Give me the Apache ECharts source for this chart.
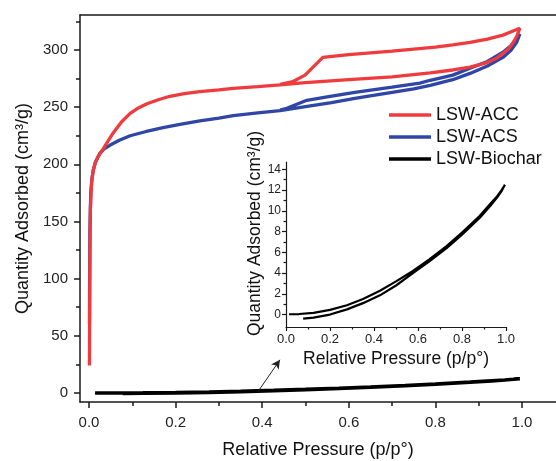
<!DOCTYPE html>
<html>
<head>
<meta charset="utf-8">
<script src="https://cdn.jsdelivr.net/npm/echarts@6/dist/echarts.min.js"></script>
<style>html,body{margin:0;padding:0;background:#fff}#c{width:556px;height:461px}</style>
</head>
<body>
<div id="c"></div>
<script>
// ---- data ----
const seriesNames = ['LSW-ACC', 'LSW-ACS', 'LSW-Biochar'];
const accData = [
  [0.001,24],[0.002,110],[0.003,160],[0.006,185],[0.01,195],[0.014,201],[0.02,206],[0.032,213],
  [0.045,221],[0.055,227],[0.075,237],[0.095,244.5],[0.115,249.5],[0.134,253],[0.16,256.5],[0.187,259.5],
  [0.22,261.8],[0.256,263.5],[0.3,265.2],[0.333,266.5],[0.39,268],[0.441,269.5],[0.5,271.5],[0.6,274],
  [0.7,276.5],[0.788,280],[0.84,282.5],[0.88,285],[0.919,289],[0.94,292.5],[0.956,297],[0.969,301],
  [0.979,306],[0.988,312],[0.995,319],
  [0.995,320],[0.985,317.5],[0.975,316],[0.956,313],[0.92,309.5],[0.88,306.6],[0.84,304.5],[0.8,302.5],
  [0.7,299],[0.6,296],[0.54,293.5],[0.499,278],[0.469,272],[0.441,270]
];
const acsData = [
  [0.001,60],[0.002,140],[0.004,175],[0.007,188],[0.01,195],[0.015,202],[0.025,209.6],[0.035,213.5],
  [0.048,216.6],[0.07,221],[0.095,225],[0.13,228.5],[0.171,232],[0.21,235],[0.256,238],[0.3,240.5],
  [0.333,242.5],[0.39,245],[0.441,247],[0.5,250.5],[0.56,254],[0.614,257.7],[0.66,260.5],[0.7,263],
  [0.75,266],[0.788,269],[0.84,274],[0.88,279.5],[0.92,286],[0.956,293.5],[0.975,300],[0.988,307],[0.995,314],
  [0.99,311],[0.975,304],[0.956,298],[0.92,290],[0.88,284],[0.84,278],[0.788,273.5],[0.764,271],
  [0.7,267.5],[0.614,263],[0.55,259],[0.503,256],[0.457,249],[0.441,247.5]
];
const biocharData = [
  [0.078,-0.4],[0.125,-0.3],[0.2,0.0],[0.277,0.5],[0.35,1.1],[0.427,1.85],[0.5,2.8],[0.577,4.0],
  [0.65,5.1],[0.73,6.4],[0.8,7.7],[0.88,9.3],[0.93,10.5],[0.96,11.3],[0.98,11.9],[0.995,12.5],
  [0.98,12.0],[0.96,11.4],[0.93,10.7],[0.88,9.5],[0.8,7.9],[0.73,6.6],[0.65,5.3],[0.577,4.2],[0.5,3.2],
  [0.427,2.3],[0.35,1.5],[0.277,0.9],[0.2,0.45],[0.125,0.16],[0.06,0.05],[0.014,0.03]
];
const mainXTicks = [0, 0.2, 0.4, 0.6, 0.8, 1.0];
const mainXMinor = [0.1, 0.3, 0.5, 0.7, 0.9];
const mainYTicks = [0, 50, 100, 150, 200, 250, 300];
const mainYMinor = [25, 75, 125, 175, 225, 275, 325];
const insetXTicks = [0, 0.2, 0.4, 0.6, 0.8, 1.0];
const insetXMinor = [0.1, 0.3, 0.5, 0.7, 0.9];
const insetYTicks = [0, 2, 4, 6, 8, 10, 12, 14];
const insetYMinor = [1, 3, 5, 7, 9, 11, 13];
const arrowFrom = [0.39, 1];
const arrowTo = [0.441, 29];

// ---- styles ----
const FONT = 'Liberation Sans, Arial, sans-serif';
const AX = '#1a1a1a';
const RED = '#ef3b3e';
const BLUE = '#2f46a6';
const BLACK = '#000';

function xFmt(v){ return Number(v).toFixed(1); }

const chart = echarts.init(document.getElementById('c'), null, {renderer: 'canvas'});
const option = {
  animation: false,
  backgroundColor: '#fff',
  grid: [
    {left: 80, top: 15, right: 0, bottom: 59, outerBoundsMode: 'none', containLabel: false},
    {left: 286, top: 162, right: 50, bottom: 134, outerBoundsMode: 'none', containLabel: false}
  ],
  legend: {
    data: seriesNames,
    orient: 'vertical',
    left: 384, top: 99,
    icon: 'rect',
    itemWidth: 42, itemHeight: 3.5,
    itemGap: 0,
    textStyle: {fontFamily: FONT, fontSize: 18, color: '#111', lineHeight: 22}
  },
  xAxis: [
    { // main major
      type: 'value', gridIndex: 0, min: -0.0208, max: 1.0785, position: 'bottom',
      name: 'Relative Pressure (p/p°)', nameLocation: 'middle', nameGap: 39,
      nameTextStyle: {fontFamily: FONT, fontSize: 18, color: '#111'},
      axisLine: {show: true, onZero: false, lineStyle: {color: AX, width: 1.5}},
      axisTick: {show: true, inside: false, length: 6, customValues: mainXTicks, lineStyle: {color: AX, width: 1.5}},
      axisLabel: {show: true, customValues: mainXTicks, formatter: xFmt, margin: 13, fontFamily: FONT, fontSize: 15, color: '#222'},
      splitLine: {show: false}
    },
    { // main minor
      type: 'value', gridIndex: 0, min: -0.0208, max: 1.0785, position: 'bottom', offset: 0,
      axisLine: {show: false, onZero: false},
      axisTick: {show: true, inside: false, length: 4, customValues: mainXMinor, lineStyle: {color: AX, width: 1.5}},
      axisLabel: {show: false}, splitLine: {show: false}
    },
    { // main top border
      type: 'value', gridIndex: 0, min: -0.0208, max: 1.0785, position: 'top',
      axisLine: {show: true, onZero: false, lineStyle: {color: AX, width: 1.5}},
      axisTick: {show: false}, axisLabel: {show: false}, splitLine: {show: false}
    },
    { // inset major
      type: 'value', gridIndex: 1, min: 0, max: 1.0, position: 'bottom',
      name: 'Relative Pressure (p/p°)', nameLocation: 'middle', nameGap: 23,
      nameTextStyle: {fontFamily: FONT, fontSize: 17.5, color: '#111'},
      axisLine: {show: true, onZero: false, lineStyle: {color: AX, width: 1.2}},
      axisTick: {show: true, inside: false, length: 4, customValues: insetXTicks, lineStyle: {color: AX, width: 1.2}},
      axisLabel: {show: true, customValues: insetXTicks, formatter: xFmt, margin: 6, fontFamily: FONT, fontSize: 13, color: '#222'},
      splitLine: {show: false}
    },
    { // inset minor
      type: 'value', gridIndex: 1, min: 0, max: 1.0, position: 'bottom', offset: 0,
      axisLine: {show: false, onZero: false},
      axisTick: {show: true, inside: false, length: 2.5, customValues: insetXMinor, lineStyle: {color: AX, width: 1.2}},
      axisLabel: {show: false}, splitLine: {show: false}
    }
  ],
  yAxis: [
    { // main major
      type: 'value', gridIndex: 0, min: -7.9, max: 330.6, position: 'left',
      name: 'Quantity Adsorbed (cm³/g)', nameLocation: 'middle', nameGap: 47,
      nameTextStyle: {fontFamily: FONT, fontSize: 18, color: '#111'},
      axisLine: {show: true, onZero: false, lineStyle: {color: AX, width: 1.5}},
      axisTick: {show: true, inside: false, length: 6, customValues: mainYTicks, lineStyle: {color: AX, width: 1.5}},
      axisLabel: {show: true, customValues: mainYTicks, margin: 12, fontFamily: FONT, fontSize: 15, color: '#222'},
      splitLine: {show: false}
    },
    { // main minor
      type: 'value', gridIndex: 0, min: -7.9, max: 330.6, position: 'left', offset: 0,
      axisLine: {show: false, onZero: false},
      axisTick: {show: true, inside: false, length: 4, customValues: mainYMinor, lineStyle: {color: AX, width: 1.5}},
      axisLabel: {show: false}, splitLine: {show: false}
    },
    { // inset major
      type: 'value', gridIndex: 1, min: -1.2, max: 14.7, position: 'left',
      name: 'Quantity Adsorbed (cm³/g)', nameLocation: 'middle', nameGap: 19,
      nameTextStyle: {fontFamily: FONT, fontSize: 17.5, color: '#111', padding: [0, 0, 0, 22]},
      axisLine: {show: true, onZero: false, lineStyle: {color: AX, width: 1.2}},
      axisTick: {show: true, inside: false, length: 4, customValues: insetYTicks, lineStyle: {color: AX, width: 1.2}},
      axisLabel: {show: true, customValues: insetYTicks, margin: 5, fontFamily: FONT, fontSize: 12, color: '#222'},
      splitLine: {show: false}
    },
    { // inset minor
      type: 'value', gridIndex: 1, min: -1.2, max: 14.7, position: 'left', offset: 0,
      axisLine: {show: false, onZero: false},
      axisTick: {show: true, inside: false, length: 2.5, customValues: insetYMinor, lineStyle: {color: AX, width: 1.2}},
      axisLabel: {show: false}, splitLine: {show: false}
    }
  ],
  series: [
    {
      name: 'LSW-ACS', type: 'line', xAxisIndex: 0, yAxisIndex: 0,
      data: acsData, showSymbol: false, smooth: false,
      lineStyle: {color: BLUE, width: 3.3}, itemStyle: {color: BLUE}
    },
    {
      name: 'LSW-ACC', type: 'line', xAxisIndex: 0, yAxisIndex: 0,
      data: accData, showSymbol: false, smooth: false,
      lineStyle: {color: RED, width: 3.3}, itemStyle: {color: RED}
    },
    {
      name: 'LSW-Biochar', type: 'line', xAxisIndex: 0, yAxisIndex: 0,
      data: biocharData, showSymbol: false, smooth: false,
      lineStyle: {color: BLACK, width: 3.5}, itemStyle: {color: BLACK},
      markLine: {
        silent: true, symbol: ['none', 'arrow'], symbolSize: [7, 9],
        lineStyle: {color: '#222', width: 1, type: 'solid'},
        label: {show: false},
        data: [[{coord: arrowFrom}, {coord: arrowTo}]]
      }
    },
    {
      name: 'inset-biochar', type: 'line', xAxisIndex: 3, yAxisIndex: 2,
      data: biocharData, showSymbol: false, smooth: false,
      lineStyle: {color: BLACK, width: 2.2}, itemStyle: {color: BLACK}
    }
  ]
};
chart.setOption(option);
</script>
</body>
</html>
